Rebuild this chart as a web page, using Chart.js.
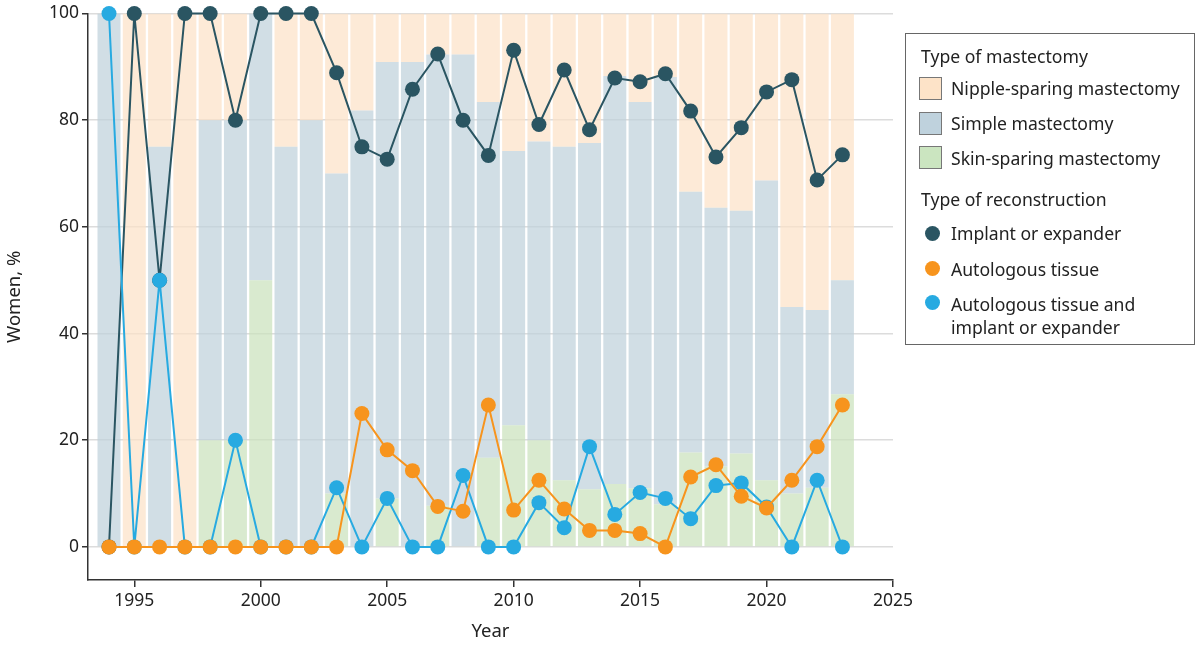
<!DOCTYPE html>
<html>
<head>
<meta charset="utf-8">
<script src="https://cdn.jsdelivr.net/npm/chart.js@4.4.1/dist/chart.umd.min.js"></script>
<style>
  body { margin: 0; background: #fff; }
  .wrap { position: relative; width: 1200px; height: 645px; }
  .legend {
    position: absolute; left: 905px; top: 33px; width: 290px; height: 312px;
    border: 1px solid #666; box-sizing: border-box;
    font-family: "Noto Sans", sans-serif; font-size: 17.6px; color: #222;
  }
  .legend div { position: absolute; white-space: nowrap; line-height: 20px; }
  .legend .sw { width: 23px; height: 23px; border: 1px solid #777; box-sizing: border-box; }
  .legend .dot { width: 15px; height: 15px; border-radius: 50%; }
</style>
</head>
<body>
<div class="wrap">
  <canvas id="chart" width="1200" height="645"></canvas>
  <div class="legend">
    <div style="left:15px; top:12px;">Type of mastectomy</div>
    <div class="sw" style="left:13px; top:43px; background:#fde3c8;"></div>
    <div style="left:45px; top:44px;">Nipple-sparing mastectomy</div>
    <div class="sw" style="left:13px; top:78px; background:#bfd2dd;"></div>
    <div style="left:45px; top:79px;">Simple mastectomy</div>
    <div class="sw" style="left:13px; top:112px; background:#cbe5c0;"></div>
    <div style="left:45px; top:114px;">Skin-sparing mastectomy</div>
    <div style="left:15px; top:155px;">Type of reconstruction</div>
    <div class="dot" style="left:19px; top:192px; background:#2a5562;"></div>
    <div style="left:45px; top:189px;">Implant or expander</div>
    <div class="dot" style="left:19px; top:227px; background:#f7941d;"></div>
    <div style="left:45px; top:225px;">Autologous tissue</div>
    <div class="dot" style="left:19px; top:261px; background:#27aae1;"></div>
    <div style="left:45px; top:259px; line-height:23px;">Autologous tissue and<br>implant or expander</div>
  </div>
</div>
<script>
const years = [1994, 1995, 1996, 1997, 1998, 1999, 2000, 2001, 2002, 2003,
  2004, 2005, 2006, 2007, 2008, 2009, 2010, 2011, 2012, 2013,
  2014, 2015, 2016, 2017, 2018, 2019, 2020, 2021, 2022, 2023];

// type of mastectomy, % of women (stacked bars)
const skinSparing = [0, 0, 0, 0, 20, 20, 50, 0, 0, 10,
  0, 9.1, 0, 7.7, 0, 16.7, 22.8, 20, 12.5, 10.8,
  11.8, 11, 8, 17.7, 15.1, 17.5, 12.5, 10, 11.1, 28.6];
const simple = [100, 0, 75, 0, 60, 60, 50, 75, 80, 60,
  81.8, 81.8, 90.9, 84.6, 92.3, 66.7, 51.4, 56, 62.5, 64.9,
  76.5, 72.4, 80.1, 48.9, 48.5, 45.5, 56.2, 35, 33.3, 21.4];
const nippleSparing = [0, 100, 25, 100, 20, 20, 0, 25, 20, 30,
  18.2, 9.1, 9.1, 7.7, 7.7, 16.6, 25.8, 24, 25, 24.3,
  11.7, 16.6, 11.9, 33.4, 36.4, 37, 31.3, 55, 55.6, 50];

// type of reconstruction, % of women (lines)
const implant = [0, 100, 50, 100, 100, 80, 100, 100, 100, 88.9,
  75, 72.7, 85.8, 92.4, 80, 73.4, 93.1, 79.2, 89.4, 78.2,
  87.9, 87.2, 88.7, 81.7, 73.1, 78.6, 85.3, 87.6, 68.8, 73.5];
const autologous = [0, 0, 0, 0, 0, 0, 0, 0, 0, 0,
  25, 18.2, 14.3, 7.6, 6.7, 26.6, 6.9, 12.5, 7.1, 3.1,
  3.1, 2.5, 0, 13.1, 15.4, 9.5, 7.3, 12.5, 18.8, 26.6];
const combined = [100, 0, 50, 0, 0, 20, 0, 0, 0, 11.1,
  0, 9.1, 0, 0, 13.4, 0, 0, 8.3, 3.6, 18.8,
  6.1, 10.2, 9.1, 5.3, 11.5, 12, 7.5, 0, 12.5, 0];

const yTicks = [0, 20, 40, 60, 80, 100];
const xTicks = [1995, 2000, 2005, 2010, 2015, 2020, 2025];

const toPoints = (arr) => arr.map((v, i) => ({ x: years[i], y: v }));

const axisFont = { family: "Noto Sans", size: 17.5 };

function barSet(label, values, color) {
  return {
    type: "bar",
    label,
    data: toPoints(values),
    backgroundColor: color,
    borderWidth: 0,
    stack: "bars",
    categoryPercentage: 0.91,
    barPercentage: 1,
    order: 10,
  };
}

function lineSet(label, values, color, order) {
  return {
    type: "line",
    label,
    data: toPoints(values),
    borderColor: color,
    backgroundColor: color,
    borderWidth: 2,
    pointRadius: 7.5,
    pointBorderWidth: 0,
    pointBackgroundColor: color,
    stack: label,
    clip: false,
    order,
  };
}

new Chart(document.getElementById("chart"), {
  type: "bar",
  data: {
    datasets: [
      barSet("Skin-sparing mastectomy", skinSparing, "rgba(201,225,186,0.7)"),
      barSet("Simple mastectomy", simple, "rgba(189,208,218,0.7)"),
      barSet("Nipple-sparing mastectomy", nippleSparing, "rgba(252,225,198,0.7)"),
      lineSet("Implant or expander", implant, "#2a5562", 3),
      lineSet("Autologous tissue and implant or expander", combined, "#27aae1", 2),
      lineSet("Autologous tissue", autologous, "#f7941d", 1),
    ],
  },
  options: {
    responsive: false,
    animation: false,
    layout: { padding: { top: 12, right: 307, left: 0, bottom: 0 } },
    plugins: {
      legend: { display: false },
      tooltip: { enabled: false },
    },
    scales: {
      x: {
        type: "linear",
        stacked: true,
        offset: false,
        min: 1993.17,
        max: 2025,
        afterBuildTicks: (axis) => {
          axis.ticks = xTicks.map((v) => ({ value: v }));
        },
        afterFit: (axis) => {
          axis.height = 65;
        },
        grid: { offset: false, drawOnChartArea: false, drawTicks: true, tickLength: 7, tickColor: "#333", lineWidth: 1.5 },
        border: { display: true, color: "#333", width: 1.5 },
        ticks: { font: axisFont, color: "#222", padding: 4, callback: (v) => String(v) },
        title: { display: true, text: "Year", font: { family: "Noto Sans", size: 18.5 }, color: "#222", padding: { top: 0, bottom: 2 } },
      },
      y: {
        stacked: true,
        min: -6.2,
        max: 100,
        afterBuildTicks: (axis) => {
          axis.ticks = yTicks.map((v) => ({ value: v }));
        },
        afterFit: (axis) => {
          axis.width = 88;
        },
        grid: { color: "#dcdcdc", lineWidth: 1.5, tickColor: "#333", tickLength: 6 },
        border: { display: true, color: "#333", width: 1.5 },
        ticks: { font: axisFont, color: "#222", padding: 3 },
        title: { display: true, text: "Women, %", font: { family: "Noto Sans", size: 18.5 }, color: "#222", padding: 4 },
      },
    },
  },
});
</script>
</body>
</html>
